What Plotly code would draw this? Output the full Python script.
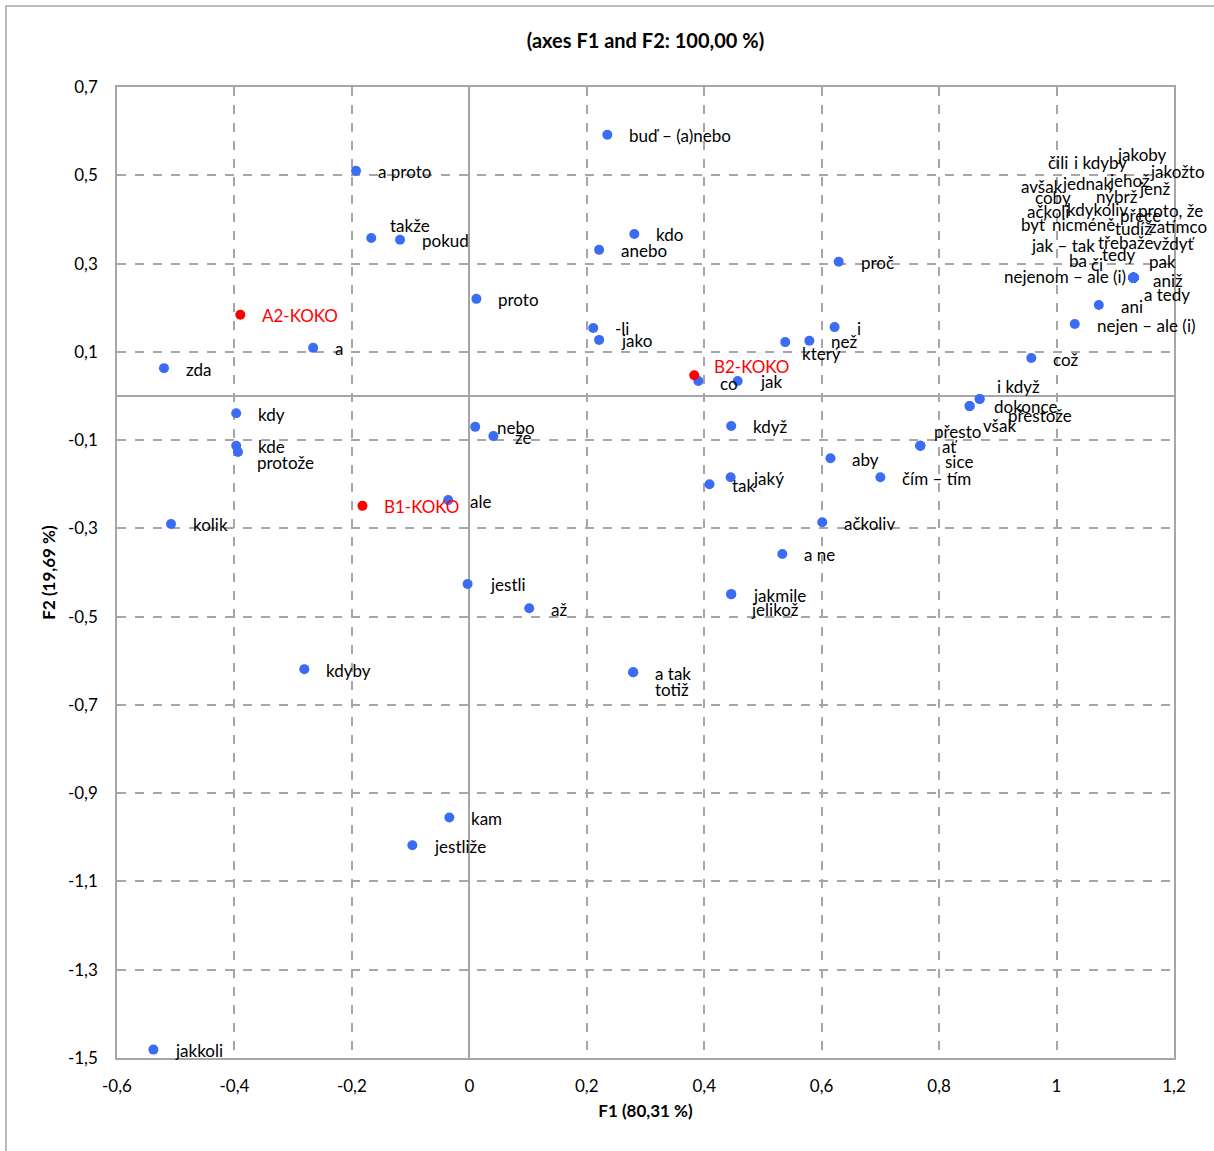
import plotly.graph_objects as go

# ---- data -------------------------------------------------------------
words = ["buď – (a)nebo", "a proto", "takže", "pokud", "kdo", "anebo", "proč", "proto",
         "-li", "jako", "a", "zda", "i", "který", "než", "co", "jak", "kdy", "kde",
         "protože", "kolik", "nebo", "že", "ale", "když", "jaký", "tak", "aby",
         "čím – tím", "přesto", "ať", "sice", "dokonce", "však", "i když", "přestože",
         "což", "ačkoliv", "a ne", "jestli", "až", "jakmile", "jelikož", "kdyby",
         "a tak", "totiž", "kam", "jestliže", "jakkoli", "ani", "nejen – ale (i)"]
f1 = [0.235, -0.193, -0.167, -0.118, 0.281, 0.221, 0.629, 0.012,
      0.211, 0.221, -0.266, -0.520, 0.622, 0.538, 0.579, 0.390, 0.457, -0.397, -0.397,
      -0.394, -0.508, 0.010, 0.041, -0.036, 0.446, 0.445, 0.409, 0.615,
      0.700, 0.768, 0.768, 0.768, 0.852, 0.852, 0.869, 0.869,
      0.957, 0.601, 0.533, -0.003, 0.102, 0.446, 0.446, -0.281,
      0.279, 0.279, -0.034, -0.097, -0.538, 1.072, 1.031]
f2 = [0.592, 0.510, 0.358, 0.354, 0.367, 0.331, 0.304, 0.220,
      0.154, 0.127, 0.109, 0.063, 0.156, 0.122, 0.125, 0.034, 0.034, -0.039, -0.113,
      -0.127, -0.290, -0.070, -0.091, -0.236, -0.068, -0.184, -0.200, -0.141,
      -0.184, -0.113, -0.113, -0.113, -0.023, -0.023, -0.007, -0.007,
      0.086, -0.286, -0.358, -0.426, -0.481, -0.449, -0.449, -0.619,
      -0.626, -0.626, -0.955, -1.018, -1.481, 0.206, 0.163]

# words sharing one position (upper right cluster)
cluster_words = ["čili", "i kdyby", "jakoby", "jakožto", "avšak", "jednak", "jehož", "jenž",
                 "coby", "nýbrž", "ačkoli", "kdykoliv", "přece", "proto, že", "byť",
                 "nicméně", "tudíž", "zatímco", "jak – tak", "třebaže", "vždyť", "tedy",
                 "ba", "či", "pak", "nejenom – ale (i)", "aniž", "a tedy"]
cluster_f1 = [1.131] * len(cluster_words)
cluster_f2 = [0.268] * len(cluster_words)

koko_names = ["A2-KOKO", "B2-KOKO", "B1-KOKO"]
koko_f1 = [-0.390, 0.383, -0.182]
koko_f2 = [0.184, 0.047, -0.249]

x_ticks = [-0.6, -0.4, -0.2, 0, 0.2, 0.4, 0.6, 0.8, 1, 1.2]
x_ticktext = ["-0,6", "-0,4", "-0,2", "0", "0,2", "0,4", "0,6", "0,8", "1", "1,2"]
y_ticks = [0.7, 0.5, 0.3, 0.1, -0.1, -0.3, -0.5, -0.7, -0.9, -1.1, -1.3, -1.5]
y_ticktext = ["0,7", "0,5", "0,3", "0,1", "-0,1", "-0,3", "-0,5", "-0,7", "-0,9", "-1,1", "-1,3", "-1,5"]

# ---- label placement (pixel offsets: anchor, dx, dy-down) -------------
default_off = ("left", 20, 1)
label_off = {
    "takže": ("left", 17, -12), "který": ("left", 15, 11), "co": ("left", 20, 3),
    "protože": ("left", 17, 10), "přesto": ("left", 12, -14), "sice": ("left", 23, 16),
    "dokonce": ("left", 22, 0), "však": ("left", 11, 19), "i když": ("left", 15, -13),
    "přestože": ("left", 26, 16), "jelikož": ("left", 18, 15), "totiž": ("left", 20, 17),
    "B2-KOKO": ("left", 18, -9),
}
cluster_off = {
    "čili": (-75, -115), "i kdyby": (-33, -115), "jakoby": (9, -123), "jakožto": (44, -106),
    "avšak": (-91, -91), "jednak": (-46, -94), "jehož": (-4, -97), "jenž": (22, -89),
    "coby": (-80, -80), "nýbrž": (-16, -81), "ačkoli": (-85, -66), "kdykoliv": (-36, -68),
    "přece": (7, -62), "proto, že": (37, -67), "byť": (-100, -53), "nicméně": (-50, -53),
    "tudíž": (0, -49), "zatímco": (45, -51), "jak – tak": (-70, -32), "třebaže": (-8, -35),
    "vždyť": (41, -34), "tedy": (-14, -23), "ba": (-55, -17), "či": (-36, -13),
    "pak": (29, -16), "nejenom – ale (i)": (-68, -1), "aniž": (35, 3), "a tedy": (34, 17),
}

FONT = "Lato"
LBL = 17
BLUE = "#3b6cf4"
RED = "#ff0000"
GRID = "#a6a6a6"

fig = go.Figure()
fig.add_trace(go.Scatter(x=f1 + cluster_f1, y=f2 + cluster_f2, mode="markers",
                         marker=dict(color=BLUE, size=10), showlegend=False, hoverinfo="skip"))
fig.add_trace(go.Scatter(x=koko_f1, y=koko_f2, mode="markers",
                         marker=dict(color=RED, size=10), showlegend=False, hoverinfo="skip"))

annotations = []
for w, x, y in zip(words, f1, f2):
    anc, dx, dy = label_off.get(w, default_off)
    annotations.append(dict(x=x, y=y, text=w, showarrow=False, xanchor=anc, yanchor="middle",
                            xshift=dx, yshift=-dy, font=dict(family=FONT, size=LBL, color="black")))
for w, x, y in zip(cluster_words, cluster_f1, cluster_f2):
    dx, dy = cluster_off[w]
    annotations.append(dict(x=x, y=y, text=w, showarrow=False, xanchor="center", yanchor="middle",
                            xshift=dx, yshift=-dy, font=dict(family=FONT, size=LBL, color="black")))
for w, x, y in zip(koko_names, koko_f1, koko_f2):
    anc, dx, dy = label_off.get(w, default_off)
    annotations.append(dict(x=x, y=y, text=w, showarrow=False, xanchor=anc, yanchor="middle",
                            xshift=dx, yshift=-dy, font=dict(family=FONT, size=LBL, color=RED)))

axis_common = dict(showgrid=True, gridcolor=GRID, griddash="dash", gridwidth=1.5,
                   zeroline=True, zerolinecolor=GRID, zerolinewidth=1.5,
                   showline=True, linecolor=GRID, linewidth=1.5, mirror=True,
                   ticks="", tickfont=dict(family=FONT, size=LBL, color="black"))

fig.update_layout(
    width=1214, height=1151,
    margin=dict(l=117, r=40, t=87, b=93),
    paper_bgcolor="white", plot_bgcolor="white",
    title=dict(text="<b>(axes F1 and F2: 100,00 %)</b>", x=0.5, xref="paper", y=1 - 41 / 1151,
               yanchor="middle", xanchor="center", font=dict(family=FONT, size=20, color="black")),
    xaxis=dict(range=[-0.6, 1.2], tickvals=x_ticks, ticktext=x_ticktext, ticklabelstandoff=12,
               title=dict(text="<b>F1 (80,31 %)</b>", font=dict(family=FONT, size=17, color="black"),
                          standoff=10), **axis_common),
    yaxis=dict(range=[-1.5, 0.7], tickvals=y_ticks, ticktext=y_ticktext, ticklabelstandoff=14,
               title=dict(text="<b>F2 (19,69 %)</b>", font=dict(family=FONT, size=17, color="black"),
                          standoff=8), **axis_common),
    annotations=annotations,
    shapes=[dict(type="rect", xref="paper", yref="paper",
                 x0=(6 - 117) / 1057, x1=1.2, y0=-0.3, y1=1 + (87 - 6) / 971,
                 line=dict(color=GRID, width=1.5), fillcolor="rgba(0,0,0,0)", layer="below")],
)

fig.write_html("out.html", config={"displayModeBar": False},
               post_script="document.body.style.margin='0';document.body.style.padding='0';")
